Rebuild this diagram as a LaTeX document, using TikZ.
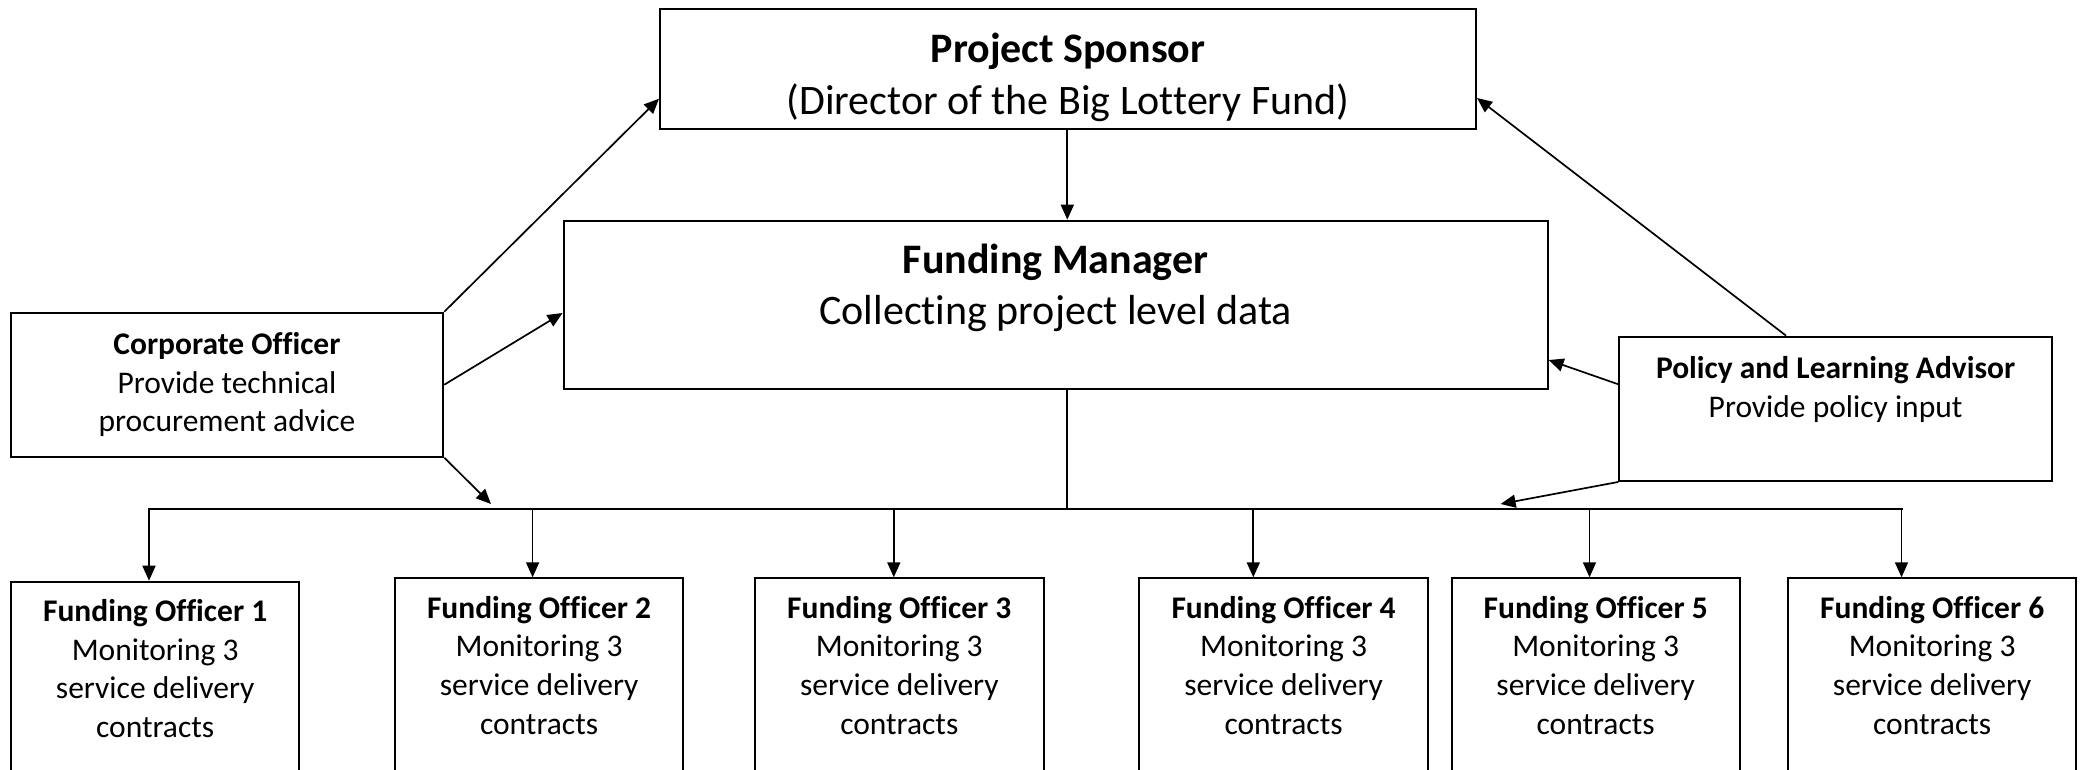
\documentclass[tikz,border=0pt]{standalone}
\usepackage{fontspec}
\setmainfont{Carlito}[Ligatures=NoCommon]
\usetikzlibrary{arrows.meta,calc}
\begin{document}
\begin{tikzpicture}[x=1pt,y=-1pt,
  box/.style={draw,line width=2pt,rectangle,inner sep=0pt},
  txt/.style={inner sep=0pt,align=center},
  big/.style={font=\fontsize{42}{51.5}\selectfont},
  small/.style={font=\fontsize{31.5}{38.7}\selectfont},
  link/.style={line width=1.7pt,-{Triangle[length=15pt,width=13pt]}},
  bus/.style={line width=2.2pt,line cap=rect},
  officer/.style={box,minimum width=288.4pt,minimum height=220pt,anchor=north},
]
\clip (0,0) rectangle (2085,770);

% top level
\node[box,minimum width=816pt,minimum height=119.4pt] (sponsor) at (1068,69) {};
\node[txt,big] (sponsortext) at ($(sponsor.center)+(0,8.5)$)
  {\textbf{Project Sponsor}\\(Director of the Big Lottery Fund)};

\node[box,minimum width=984pt,minimum height=167.8pt] (fm) at (1055.6,304.6) {};
\node[txt,big] (fmtext) at ($(fm.center)+(0,-16.6)$)
  {\textbf{Funding Manager}\\Collecting project level data};

% advisers
\node[box,small,align=center,minimum width=432.6pt,minimum height=144pt] (corp) at (227,384.7)
  {\textbf{Corporate Officer}\\Provide technical\\procurement advice};

\node[box,minimum width=432.6pt,minimum height=144.3pt] (policy) at (1835.6,408.8) {};
\node[txt,small] (policytext) at ($(policy.center)+(0,-19)$)
  {\textbf{Policy and Learning Advisor}\\Provide policy input};

% funding officers
\node[officer] (fo1) at (155.2,580.7) {};
\node[officer] (fo2) at (539.1,577.3) {};
\node[officer] (fo3) at (899.3,577.3) {};
\node[officer] (fo4) at (1283.6,577.3) {};
\node[officer] (fo5) at (1595.7,577.3) {};
\node[officer] (fo6) at (1932.2,577.3) {};
\foreach \i in {1,...,6}{
  \node[txt,small] (fo\i text) at ($(fo\i.north)+(0,88)$)
    {\textbf{Funding Officer \i}\\Monitoring 3\\service delivery\\contracts};
}

% distribution bus
\coordinate (hub) at (1067.3,509);
\coordinate (d1) at (149,509);
\coordinate (d2) at (532.6,509);
\coordinate (d3) at (893.8,509);
\coordinate (d4) at (1253.3,509);
\coordinate (d5) at (1589.5,509);
\coordinate (d6) at (1901.5,509);
\coordinate (ctip) at (491,504);
\coordinate (ptip) at (1500.6,504);

\draw[link] (sponsor.south -| hub) -- (hub |- fm.north);
\draw[line width=1.7pt] (fm.south -| hub) -- (hub);
\draw[bus] (d1) -- (d6);
\foreach \i in {1,...,6}{
  \draw[link] (d\i) -- (d\i |- fo\i.north);
}

% advice links
\draw[link] (corp.north east) -- ($(sponsor.south west)+(0,-31)$);
\draw[link] (corp.east) -- ($(fm.west)+(0,8.4)$);
\draw[link] (corp.south east) -- (ctip);

\draw[link] ($(policy.north)+(-49.6,0)$) -- ($(sponsor.east)+(0,29)$);
\draw[link] ($(policy.west)+(0,-24.5)$) -- ($(fm.east)+(0,55.4)$);
\draw[link] (policy.south west) -- (ptip);
\end{tikzpicture}
\end{document}
